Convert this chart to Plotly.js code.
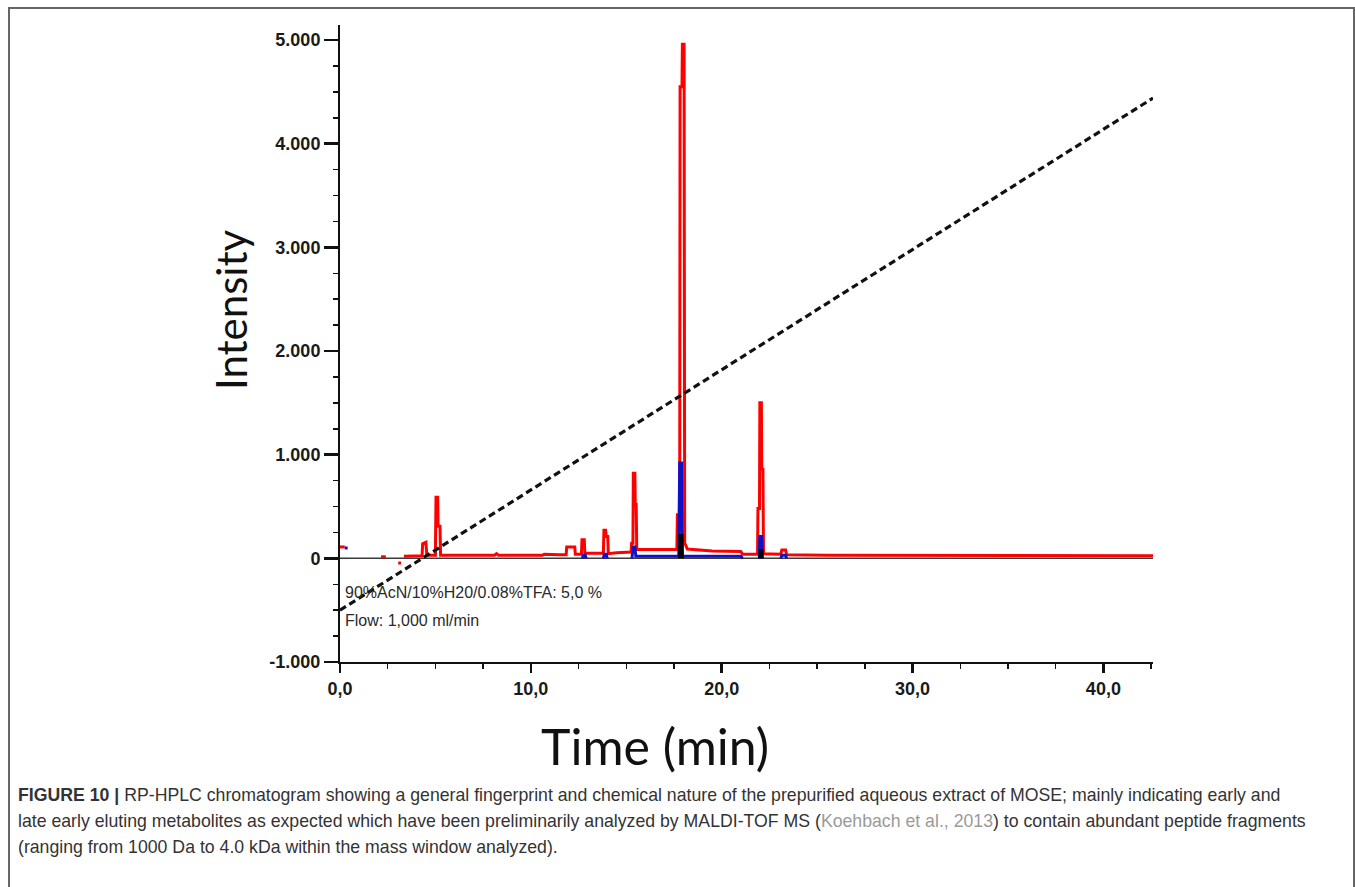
<!DOCTYPE html>
<html>
<head>
<meta charset="utf-8">
<script src="https://cdn.plot.ly/plotly-3.0.1.min.js"></script>
<style>
  html, body { margin: 0; padding: 0; background: #ffffff; }
  #chart { width: 1355px; height: 887px; }
</style>
</head>
<body>
<div id="chart"></div>
<script>
// ---- Data ----
// Red channel (main detector trace): time (min) / intensity
const redTime = [0.0, 0.25, null, 2.15, 2.4, null, 3.05, 3.2, null,
  3.35, 4.3, 4.33, 4.5, 4.55,
  5.0, 5.03, 5.12, 5.14, 5.24, 5.27,
  8.1, 8.2, 8.3, 10.6, 10.7, 11.5,
  11.85, 11.88, 12.3, 12.33,
  12.65, 12.68, 12.8, 12.83,
  13.8, 13.83, 13.92, 13.95, 14.03, 14.06,
  14.5, 15.25, 15.28, 15.35, 15.37, 15.45, 15.47, 15.52, 15.55,
  17.65, 17.68, 17.8, 17.82, 17.92, 17.94, 18.03, 18.06, 18.2,
  19.5, 21.0, 21.1,
  21.88, 21.9, 21.98, 22.0, 22.08, 22.1, 22.16, 22.19,
  23.1, 23.15, 23.35, 23.4, 25.5, 42.6];
const redValue = [110, 110, null, 15, 15, null, -45, -45, null,
  20, 25, 140, 155, 30,
  30, 590, 590, 310, 310, 30,
  30, 45, 30, 30, 40, 35,
  35, 110, 110, 40,
  40, 180, 180, 50,
  50, 270, 270, 210, 210, 45,
  55, 60, 145, 145, 820, 820, 520, 520, 85,
  85, 420, 420, 4550, 4550, 4960, 4960, 150, 90,
  70, 65, 40,
  40, 480, 480, 1500, 1500, 860, 860, 45,
  40, 80, 80, 35, 30, 25];

// Blue channel
const blueTime = [0.25, 0.4, null,
  12.7, 12.75, 12.85, 12.9, null,
  13.8, 13.85, 13.95, 14.0, null,
  15.3, 15.35, 15.45, 15.5, 17.75, 17.8, 17.9, 17.93, 21.0, 21.1, null,
  21.97, 22.0, 22.1, 22.13, null,
  23.1, 23.15, 23.35, 23.4];
const blueValue = [100, 100, null,
  0, 30, 30, 0, null,
  0, 40, 40, 0, null,
  0, 110, 110, 20, 20, 920, 920, 20, 20, 0, null,
  0, 210, 210, 0, null,
  0, 30, 30, 0];

// Black channel (baseline and small peaks)
const baseTime = [0.0, 42.6];
const baseValue = [0, 0];
const blackTime = [17.8, 17.82, 17.92, 17.94, null, 22.0, 22.02, 22.1, 22.12];
const blackValue = [0, 220, 220, 0, null, 0, 70, 70, 0];

// Solvent gradient (90%AcN/10%H2O/0.08%TFA), drawn on the intensity scale
const gradientTime = [0.0, 42.6];
const gradientValue = [-500, 4440];

// Tick labels (continental decimal style)
const xTickVals = [0, 10, 20, 30, 40];
const xTickText = ['0,0', '10,0', '20,0', '30,0', '40,0'];
const yTickVals = [-1000, 0, 1000, 2000, 3000, 4000, 5000];
const yTickText = ['-1.000', '0', '1.000', '2.000', '3.000', '4.000', '5.000'];

const xTitle = 'Time (min)';
const yTitle = 'Intensity';

const captionLines = [
  '<b>FIGURE 10 |</b> RP-HPLC chromatogram showing a general fingerprint and chemical nature of the prepurified aqueous extract of MOSE; mainly indicating early and',
  'late early eluting metabolites as expected which have been preliminarily analyzed by MALDI-TOF MS (<span style="color:#9a9a9a">Koehbach et al., 2013</span>) to contain abundant peptide fragments',
  '(ranging from 1000 Da to 4.0 kDa within the mass window analyzed).'
];

// ---- Layout geometry ----
const W = 1355, H = 887;
const M = { l: 340, r: 202, t: 25, b: 225 };
const pw = W - M.l - M.r, ph = H - M.t - M.b;
const px = x => (x - M.l) / pw;          // page pixel -> paper x
const py = y => (H - M.b - y) / ph;      // page pixel -> paper y

const traces = [
  { x: baseTime, y: baseValue, mode: 'lines', line: { color: '#3a3a3a', width: 1.5 }, hoverinfo: 'skip' },
  { x: redTime, y: redValue, mode: 'lines', connectgaps: false, line: { color: '#ff0000', width: 3 }, name: 'red' },
  { x: blueTime, y: blueValue, mode: 'lines', connectgaps: false, line: { color: '#1010c8', width: 3 }, name: 'blue' },
  { x: blackTime, y: blackValue, mode: 'lines', connectgaps: false, line: { color: '#000000', width: 3 }, name: 'black' },
  { x: gradientTime, y: gradientValue, mode: 'lines', line: { color: '#111111', width: 3.2, dash: '7px,4px' }, name: 'gradient' }
];

const tickFont = { family: 'Liberation Sans, Arial, sans-serif', size: 18, color: '#1a1a1a', weight: 'bold' };
const noteFont = { family: 'Liberation Sans, Arial, sans-serif', size: 16, color: '#2a2a2a' };
const titleFont = { family: 'Lato, sans-serif', color: '#111' };

const annotations = [
  { text: '90%AcN/10%H20/0.08%TFA: 5,0 %', x: px(343), y: py(592), xref: 'paper', yref: 'paper',
    xanchor: 'left', yanchor: 'middle', showarrow: false, font: noteFont },
  { text: 'Flow: 1,000 ml/min', x: px(343), y: py(620), xref: 'paper', yref: 'paper',
    xanchor: 'left', yanchor: 'middle', showarrow: false, font: noteFont },
  { text: yTitle, x: px(231), y: py(310), xref: 'paper', yref: 'paper', textangle: -90,
    xanchor: 'center', yanchor: 'middle', showarrow: false, font: Object.assign({ size: 42 }, titleFont) },
  { text: xTitle, x: px(655), y: py(746), xref: 'paper', yref: 'paper',
    xanchor: 'center', yanchor: 'middle', showarrow: false, font: Object.assign({ size: 50 }, titleFont) }
];
const capY = [795, 821, 847];
captionLines.forEach((t, i) => {
  annotations.push({ text: t, x: px(16), y: py(capY[i]), xref: 'paper', yref: 'paper',
    xanchor: 'left', yanchor: 'middle', align: 'left', showarrow: false,
    font: { family: 'Liberation Sans, Arial, sans-serif', size: 17.7, color: '#333333' } });
});

const layout = {
  width: W, height: H,
  margin: M,
  paper_bgcolor: '#ffffff', plot_bgcolor: '#ffffff',
  showlegend: false,
  xaxis: {
    range: [0, 42.6], showgrid: false, zeroline: false,
    showline: true, linecolor: '#111', linewidth: 2,
    ticks: 'outside', ticklen: 9, tickwidth: 2.5, tickcolor: '#111',
    tickmode: 'array', tickvals: xTickVals, ticktext: xTickText,
    tickfont: tickFont,
    minor: { tickmode: 'linear', tick0: 0, dtick: 2.5, ticks: 'outside', ticklen: 5, tickwidth: 1.5, tickcolor: '#111' },
    automargin: false
  },
  yaxis: {
    range: [-1000, 5145], showgrid: false, zeroline: false,
    showline: true, linecolor: '#111', linewidth: 2,
    ticks: 'outside', ticklen: 14, tickwidth: 2.5, tickcolor: '#111',
    tickmode: 'array', tickvals: yTickVals, ticktext: yTickText,
    tickfont: tickFont,
    minor: { tickmode: 'linear', tick0: 0, dtick: 250, ticks: 'outside', ticklen: 5, tickwidth: 1.5, tickcolor: '#111' },
    automargin: false
  },
  annotations: annotations,
  shapes: [
    { type: 'rect', xref: 'paper', yref: 'paper', x0: px(9), x1: px(1354), y0: py(905), y1: py(8),
      line: { color: '#666666', width: 2 }, fillcolor: 'rgba(0,0,0,0)', layer: 'below' }
  ]
};

Plotly.newPlot('chart', traces, layout, { displayModeBar: false, staticPlot: true });
</script>
</body>
</html>
